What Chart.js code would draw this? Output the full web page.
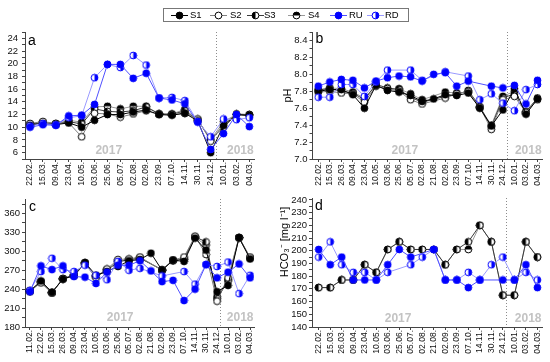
<!DOCTYPE html>
<html lang="en">
<head>
<meta charset="utf-8">
<title>Water temperature, pH, conductivity and HCO3 2017–2018</title>
<script src="https://cdn.jsdelivr.net/npm/chart.js"></script>
<style>
  body { margin: 0; background: #fff; font-family: 'Liberation Sans', Arial, sans-serif; }
  #wrap { position: relative; width: 550px; height: 362px; overflow: hidden; }
  #wrap canvas.panel { position: absolute; }
  #legendBox { position: absolute; left: 163px; top: 8px; width: 246px; height: 14px; border: 1px solid #777; box-sizing: border-box; }
  .sym { position: absolute; top: 10px; }
  .lbl { position: absolute; top: 9px; font-size: 9.5px; line-height: 12px; color: #000; }
</style>
</head>
<body>
<div id="wrap">
  <div id="legendBox"></div>
  <canvas class="panel" id="chartA" width="270" height="190" style="left:0;top:0"></canvas>
  <canvas class="panel" id="chartB" width="280" height="190" style="left:270px;top:0"></canvas>
  <canvas class="panel" id="chartC" width="270" height="172" style="left:0;top:190px"></canvas>
  <canvas class="panel" id="chartD" width="280" height="172" style="left:270px;top:190px"></canvas>
</div>
<script>
// ---- sampling dates (x tick labels) ----
const labelsA = ['22.02.','15.03.','09.04.','23.04.','10.05.','03.06.','25.06.','05.07.','02.08.','02.09.','23.09.','07.10.','14.11.','30.11.','24.12.','10.01.','03.02.','04.03.'];
const labelsB = ['22.02.','15.03.','26.03.','09.04.','23.04.','10.05.','03.06.','25.06.','05.07.','02.08.','21.08.','02.09.','23.09.','07.10.','14.11.','30.11.','24.12.','10.01.','03.02.','04.03.'];
const labelsC = ['11.02.','22.02.','15.03.','26.03.','09.04.','23.04.','10.05.','03.06.','25.06.','05.07.','02.08.','21.08.','02.09.','23.09.','07.10.','14.11.','30.11.','24.12.','10.01.','03.02.','04.03.'];
const labelsD = ['22.02.','15.03.','26.03.','09.04.','23.04.','10.05.','03.06.','25.06.','05.07.','02.08.','21.08.','02.09.','23.09.','07.10.','14.11.','30.11.','24.12.','10.01.','03.02.','04.03.'];

// ---- y tick labels ----
const ticksA = [6, 8, 10, 12, 14, 16, 18, 20, 22, 24];
const ticksB = [7.0, 7.2, 7.4, 7.6, 7.8, 8.0, 8.2, 8.4];
const ticksC = [180, 210, 240, 270, 300, 330, 360];
const ticksD = [140, 150, 160, 170, 180, 190, 200, 210, 220, 230, 240];

// ---- panel a ----
const tempS1 = [10.3,10.6,10.4,10.7,10.0,11.1,12.0,12.0,12.4,12.7,12.0,11.9,12.2,11.0,6.0,10.3,12.0,11.9];
const tempS2 = [10.6,10.9,10.6,10.7,8.5,12.2,12.1,11.6,12.1,12.6,12.0,12.0,12.2,11.3,7.8,10.5,12.1,12.0];
const tempS3 = [10.5,10.7,10.5,10.9,10.5,12.9,12.5,12.4,12.6,13.2,12.1,12.0,12.6,11.1,8.1,10.0,12.0,11.8];
const tempS4 = [10.4,10.8,10.6,11.1,10.8,13.2,13.3,12.9,13.3,13.3,12.1,12.1,12.8,11.2,8.0,10.9,12.0,12.0];
const tempRU = [10.0,10.4,10.3,11.8,11.9,13.6,19.9,19.9,17.7,18.5,14.6,14.3,13.7,10.8,6.5,9.0,12.0,10.1];
const tempRD = [10.2,10.6,10.4,11.5,11.8,17.8,19.9,19.4,21.3,19.8,14.6,14.7,14.2,10.9,8.5,11.3,11.2,11.5];

// ---- panel b (pH) ----
const phS1 = [7.80,7.82,7.82,7.76,7.60,7.87,7.81,7.79,7.75,7.68,7.71,7.76,7.75,7.78,7.60,7.39,7.58,7.83,7.53,7.71];
const phS2 = [7.79,7.80,7.78,7.77,7.67,7.86,7.83,7.80,7.70,7.65,null,7.72,7.77,7.80,7.61,7.35,7.70,7.74,7.55,7.70];
const phS3 = [7.82,7.83,7.80,7.78,7.70,7.88,7.84,7.82,7.73,7.67,null,7.74,7.76,7.81,7.62,7.38,7.72,7.77,7.56,7.72];
const phS4 = [7.81,7.84,7.83,7.79,7.72,7.87,7.82,7.83,7.77,7.70,null,7.79,7.78,7.79,7.61,7.40,7.74,7.80,7.54,7.71];
const phRU = [7.86,7.91,7.94,7.93,7.84,7.92,7.96,7.98,7.97,7.92,8.00,8.02,7.86,7.92,null,7.86,7.84,7.87,7.65,7.93];
const phRD = [7.73,7.73,7.88,7.88,7.74,7.91,8.05,null,8.05,7.93,null,8.03,null,7.98,7.70,7.77,7.66,7.57,7.82,7.88];

// ---- panel c ----
const condS1 = [237,253,235,256,262,282,262,268,276,285,287,297,270,286,284,321,302,236,246,322,288];
const condS2 = [238,250,234,257,263,280,258,272,287,288,291,null,270,286,291,324,295,221,258,322,291];
const condS3 = [237,252,235,256,261,281,260,270,283,287,289,null,271,285,288,323,315,225,253,321,290];
const condS4 = [236,251,234,257,262,282,261,271,285,286,290,null,270,286,287,322,310,228,255,322,289];
const condRU = [236,277,271,277,260,259,249,267,278,278,285,269,252,254,222,240,279,258,267,280,258];
const condRD = [238,268,289,271,268,278,262,255,284,270,273,null,261,null,268,248,279,276,283,233,262];

// ---- panel d (HCO3-) ----
const hcoS3 = [171,171,177,177,189,183,201,207,201,201,201,189,201,207,220,207,165,165,207,195];
const hcoS4 = [171,171,177,177,189,183,201,207,201,201,201,189,201,201,220,207,165,165,207,195];
const hcoRU = [201,189,195,177,177,177,189,201,195,null,201,177,177,171,177,null,177,177,189,171];
const hcoRD = [195,207,189,183,183,177,183,null,189,195,201,177,177,183,177,189,195,177,183,177];

const FONT = "'Liberation Sans', Arial, sans-serif";
Chart.defaults.font.family = FONT;
Chart.defaults.color = '#111';

const look = {
  S1: {line: '#000000', kind: 'full',  color: '#000000'},
  S2: {line: '#808080', kind: 'open',  color: '#000000'},
  S3: {line: '#3a3a3a', kind: 'left',  color: '#000000'},
  S4: {line: '#9a9a9a', kind: 'top',   color: '#000000'},
  RU: {line: '#5050ff', kind: 'full',  color: '#0000ff'},
  RD: {line: '#9a9aff', kind: 'right', color: '#0000ff'}
};

function marker(kind, color) {
  const c = document.createElement('canvas');
  c.width = 9; c.height = 9;
  const g = c.getContext('2d');
  const cx = 4.5, cy = 4.5, r = 3.4;
  g.beginPath(); g.arc(cx, cy, r, 0, Math.PI * 2); g.fillStyle = '#fff'; g.fill();
  g.fillStyle = color;
  g.beginPath();
  if (kind === 'full') g.arc(cx, cy, r, 0, Math.PI * 2);
  else if (kind === 'left') g.arc(cx, cy, r, Math.PI / 2, Math.PI * 1.5);
  else if (kind === 'right') g.arc(cx, cy, r, -Math.PI / 2, Math.PI / 2);
  else if (kind === 'top') g.arc(cx, cy, r, Math.PI, Math.PI * 2);
  g.closePath();
  if (kind !== 'open') g.fill();
  g.beginPath(); g.arc(cx, cy, r, 0, Math.PI * 2);
  g.strokeStyle = color; g.lineWidth = 1; g.stroke();
  return c;
}
const markers = {};
Object.keys(look).forEach(k => markers[k] = marker(look[k].kind, look[k].color));

// legend (html text + small canvas symbols)
[['S1', 171, 190], ['S2', 210, 230], ['S3', 247, 264], ['S4', 288, 308], ['RU', 330, 349], ['RD', 367, 385]].forEach(([name, sx, tx]) => {
  const c = document.createElement('canvas');
  c.width = 17; c.height = 11; c.className = 'sym'; c.style.left = sx + 'px';
  const g = c.getContext('2d');
  g.strokeStyle = look[name].line; g.lineWidth = 1;
  g.beginPath(); g.moveTo(0, 5.5); g.lineTo(17, 5.5); g.stroke();
  g.drawImage(markers[name], 4, 1);
  const s = document.createElement('span');
  s.className = 'lbl'; s.style.left = tx + 'px'; s.textContent = name;
  document.getElementById('wrap').append(c, s);
});

// panel letter, year captions, year split line, y title
const decor = {
  id: 'decor',
  beforeDatasetsDraw(chart, args, o) {
    const {ctx, chartArea: a, scales: {x}} = chart;
    ctx.save();
    const sx = Math.round(x.getPixelForValue(o.split)) + 0.5;
    ctx.strokeStyle = '#8c8c8c'; ctx.lineWidth = 1; ctx.setLineDash([1, 2]);
    ctx.beginPath(); ctx.moveTo(sx, a.top); ctx.lineTo(sx, a.bottom); ctx.stroke();
    ctx.setLineDash([]);
    ctx.fillStyle = '#c3c3c3';
    ctx.font = 'bold 12px ' + FONT;
    ctx.textAlign = 'center'; ctx.textBaseline = 'alphabetic';
    o.years.forEach(([v, t]) => ctx.fillText(t, x.getPixelForValue(v), a.bottom - o.yearLift));
    ctx.fillStyle = '#000';
    ctx.font = '14px ' + FONT;
    ctx.textAlign = 'left';
    ctx.fillText(o.letter, a.left + o.letterAt[0], a.top + o.letterAt[1]);
    if (o.title) {
      ctx.translate(o.title[1], o.title[2]);
      ctx.rotate(-Math.PI / 2);
      ctx.font = '11px ' + FONT;
      ctx.textAlign = 'center'; ctx.textBaseline = 'middle';
      ctx.fillText(o.title[0], 0, 0);
    }
    ctx.restore();
  }
};

function makePanel(id, o) {
  const yt = [];
  const half = o.yStep / 2;
  const lo = +(o.yMajor[0] - half).toFixed(3);
  if (lo >= o.yMin) yt.push({value: lo, lbl: ''});
  o.yMajor.forEach(v => {
    yt.push({value: v, lbl: o.fmt(v)});
    const m = +(v + half).toFixed(3);
    if (m <= o.yMax) yt.push({value: m, lbl: ''});
  });
  return new Chart(document.getElementById(id), {
    type: 'line',
    data: {
      datasets: o.series.map(([name, vals], k) => ({
        label: name,
        data: vals.map((v, i) => ({x: i, y: v})),
        borderColor: look[name].line,
        borderWidth: 1,
        pointStyle: markers[name],
        pointRadius: 3.5,
        spanGaps: true,
        tension: 0,
        order: name === 'RU' ? 0 : name === 'RD' ? 1 : 2 + k,
        segment: {borderDash: c => (c.p1DataIndex - c.p0DataIndex > 1 ? [3, 2] : undefined)}
      }))
    },
    options: {
      responsive: false,
      devicePixelRatio: 1,
      animation: false,
      layout: {padding: o.pad},
      plugins: {legend: {display: false}, tooltip: {enabled: false}, decor: o.decor},
      scales: {
        x: {
          type: 'linear', min: o.xMin, max: o.labels.length - 1 + o.xMaxPad,
          afterBuildTicks: s => { s.ticks = o.labels.map((l, i) => ({value: i, lbl: l})); },
          afterFit: s => { s.height = o.xh; },
          ticks: {autoSkip: false, minRotation: 90, maxRotation: 90, padding: 0,
                  font: {size: 8.5}, color: '#111', callback: (v, i, t) => t[i].lbl},
          grid: {drawOnChartArea: false, tickLength: 3, color: '#444'},
          border: {color: '#444'}
        },
        y: {
          type: 'linear', min: o.yMin, max: o.yMax,
          afterBuildTicks: s => { s.ticks = yt.map(t => ({...t})); },
          afterFit: s => { s.width = o.yw; },
          ticks: {autoSkip: false, padding: o.yPad, font: {size: 9.5}, color: '#111',
                  callback: (v, i, t) => t[i].lbl},
          grid: {drawOnChartArea: false, tickLength: 3, color: '#444'},
          border: {color: '#444'}
        }
      }
    },
    plugins: [decor]
  });
}

makePanel('chartA', {
  labels: labelsA, xMin: -0.39, xMaxPad: 0.36,
  yMin: 5, yMax: 25, yMajor: ticksA, yStep: 2, fmt: v => String(v), yPad: 4,
  pad: {left: 0, top: 32, right: 16, bottom: 0}, yw: 25, xh: 31,
  series: [['S1', tempS1], ['S2', tempS2], ['S3', tempS3], ['S4', tempS4], ['RU', tempRU], ['RD', tempRD]],
  decor: {letter: 'a', letterAt: [3, 13], split: 14.45, years: [[6.1, '2017'], [16.3, '2018']], yearLift: 5}
});

makePanel('chartB', {
  labels: labelsB, xMin: -0.5, xMaxPad: 0.39,
  yMin: 7.0, yMax: 8.5, yMajor: ticksB, yStep: 0.2, fmt: v => v.toFixed(1), yPad: 2,
  pad: {left: 0, top: 32, right: 8, bottom: 0}, yw: 42.5, xh: 31,
  series: [['S1', phS1], ['S2', phS2], ['S3', phS3], ['S4', phS4], ['RU', phRU], ['RD', phRD]],
  decor: {letter: 'b', letterAt: [3, 11], split: 16.35, years: [[7.5, '2017'], [18.2, '2018']], yearLift: 5,
          title: ['pH', 17.5, 95.5]}
});

makePanel('chartC', {
  labels: labelsC, xMin: -0.45, xMaxPad: 0.36,
  yMin: 180, yMax: 383, yMajor: ticksC, yStep: 30, fmt: v => String(v), yPad: 2,
  pad: {left: 0, top: 9, right: 16, bottom: 0}, yw: 25, xh: 35,
  series: [['S1', condS1], ['S2', condS2], ['S3', condS3], ['S4', condS4], ['RU', condRU], ['RD', condRD]],
  decor: {letter: 'c', letterAt: [4, 12], split: 17.3, years: [[8.2, '2017'], [19.1, '2018']], yearLift: 6}
});

makePanel('chartD', {
  labels: labelsD, xMin: -0.58, xMaxPad: 0.4,
  yMin: 140, yMax: 241.5, yMajor: ticksD, yStep: 10, fmt: v => String(v), yPad: 2,
  pad: {left: 0, top: 8, right: 8, bottom: 0}, yw: 42, xh: 35,
  series: [['S3', hcoS3], ['S4', hcoS4], ['RU', hcoRU], ['RD', hcoRD]],
  decor: {letter: 'd', letterAt: [3, 12], split: 16.3, years: [[6.9, '2017'], [18.2, '2018']], yearLift: 5,
          title: ['HCO₃⁻ [mg l⁻¹]', 15, 52]}
});
</script>
</body>
</html>
